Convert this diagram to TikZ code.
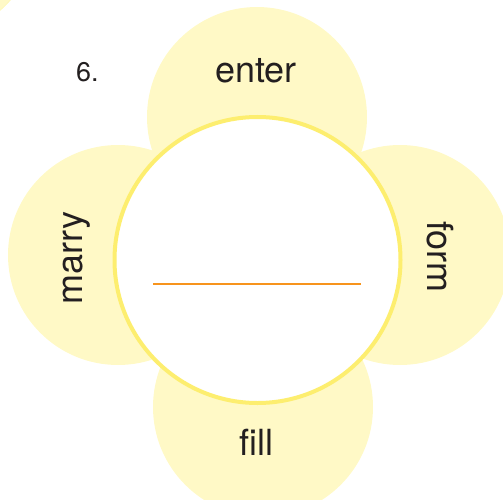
\documentclass[tikz,border=0pt]{standalone}
\usepackage{fontspec}
\setmainfont{TeX Gyre Heros}
\definecolor{petal}{HTML}{FFF9C6}
\definecolor{ring}{HTML}{FDEE6F}
\definecolor{blankline}{HTML}{F7941D}
\definecolor{ink}{HTML}{231F20}
\tikzset{
  petalshape/.style={fill=petal, draw=none},
  word/.style={text=ink, font=\fontsize{36}{40}\selectfont, inner sep=0pt, anchor=base},
}
\begin{document}
\begin{tikzpicture}[x=1pt,y=-1pt]
\useasboundingbox (0,0) rectangle (503,500);
\begin{scope}
\clip (0,0) rectangle (503,500);
% leftover petal in the corner
\fill[petal] (-100,-100) circle[radius=149];
\draw[petal!80!ring, line width=0.6pt] (-100,-100) circle[radius=149];
% petals
\fill[petalshape] (257,117) circle[radius=110];
\fill[petalshape] (118,255) circle[radius=110];
\fill[petalshape] (400,255) circle[radius=110];
\fill[petalshape] (263,407) circle[radius=110];
\end{scope}
% centre
\node[circle, fill=white, draw=ring, line width=4pt, minimum size=286pt, inner sep=0pt] (centre) at (257.5,260) {};
\coordinate (lineL) at (153,284);
\coordinate (lineR) at (361,284);
\draw[blankline, line width=2.6pt] (lineL) -- (lineR);
% labels
\node[text=ink, font=\fontsize{27}{30}\selectfont, inner sep=0pt, anchor=base west] (num) at (76,82) {6.};
\node[word] (enter) at (256,83) {enter};
\node[word, rotate=90] (marry) at (82,258) {marry};
\node[word, rotate=-90] (form) at (427,257) {form};
\node[word] (fill) at (256,455) {fill};
\end{tikzpicture}
\end{document}
